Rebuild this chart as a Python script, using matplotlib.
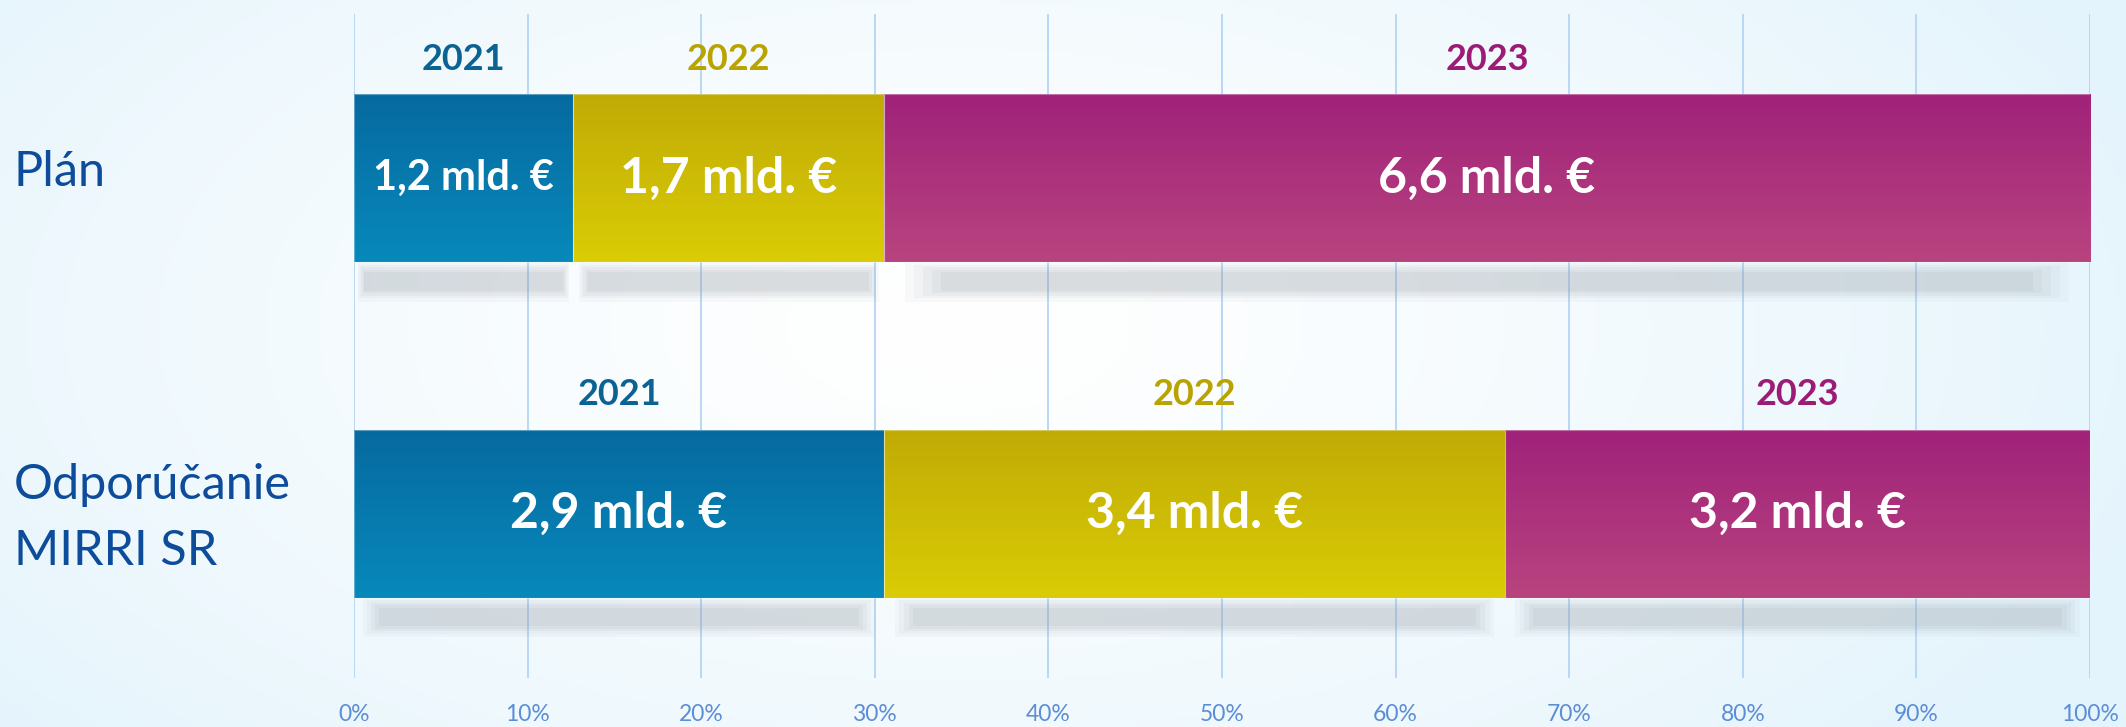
import numpy as np
import matplotlib.pyplot as plt
import matplotlib.transforms as mtransforms
from matplotlib.colors import to_rgb

# data
categories = ['Odporúčanie\nMIRRI SR', 'Plán']
years = ['2021', '2022', '2023']
plan = [1.2, 1.7, 6.6]
mirri = [2.9, 3.4, 3.2]
rows = [mirri, plan]
ticks = [0, 10, 20, 30, 40, 50, 60, 70, 80, 90, 100]

top_cols = ['#066aa0', '#c0ab05', '#a0227a']
bot_cols = ['#0889bb', '#dacc06', '#b8447f']
year_cols = ['#0b6394', '#b9a301', '#9c1c75']

plt.rcParams['font.family'] = ['Lato', 'DejaVu Sans']

fig = plt.figure(figsize=(21.26, 7.27), dpi=100)

# background gradient
bg = fig.add_axes([0, 0, 1, 1], zorder=-10)
gx, gy = np.meshgrid(np.linspace(0, 1, 400), np.linspace(0, 1, 140))
t = np.sqrt(((gx - 0.45) / 0.6) ** 2 + ((gy - 0.45) / 0.9) ** 2)
t = np.clip(t, 0, 1) ** 1.3
c0 = np.array(to_rgb('#ffffff'))
c1 = np.array(to_rgb('#e4f4fc'))
img = c0 * (1 - t[..., None]) + c1 * t[..., None]
bg.imshow(img, aspect='auto', extent=[0, 1, 0, 1], origin='upper')
bg.axis('off')

ax = fig.add_axes([354 / 2126, 1 - 678 / 727, (2090 - 354) / 2126, (678 - 14) / 727])
ax.patch.set_alpha(0)
ax.set_xlim(0, 100)
ax.set_ylim(-0.49, 1.49)

ax.set_xticks(ticks)
ax.set_xticklabels([f'{v}%' for v in ticks])
ax.tick_params(axis='x', length=0, pad=19, labelsize=16.5, labelcolor='#5b8ed6')
ax.set_yticks([])
for s in ax.spines.values():
    s.set_visible(False)
ax.grid(axis='x', color='#b3d5f5', lw=1.3, zorder=0)
ax.set_axisbelow(True)

# blurred shadow layers: (width share, height, alpha)
shadow = [(0.965, 0.12, 0.05), (0.95, 0.10, 0.06), (0.935, 0.085, 0.07),
          (0.92, 0.07, 0.08), (0.905, 0.055, 0.09)]

bh = 0.5
for i, vals in enumerate(rows):
    tot = sum(vals)
    pct = [v / tot * 100 for v in vals]
    left = 0
    for j, p in enumerate(pct):
        for w, h, a in shadow:
            ax.barh(i - bh / 2 - 0.058, p * w, left=left + p * (1 - w) / 2, height=h,
                    color='#8c969e', alpha=a, lw=0, zorder=1)
        bar = ax.barh(i, p, left=left, height=bh, color=bot_cols[j],
                      edgecolor='#ffffff', lw=0.8, zorder=3)[0]
        grad = np.linspace(0, 1, 100)[:, None, None]
        gimg = np.array(to_rgb(top_cols[j])) * (1 - grad) + np.array(to_rgb(bot_cols[j])) * grad
        im = ax.imshow(gimg, aspect='auto', extent=[left, left + p, i - bh / 2, i + bh / 2],
                       origin='upper', zorder=2.5)
        im.set_clip_path(bar)
        bar.set_facecolor('none')
        bar.set_edgecolor((1, 1, 1, 0.35))
        lbl = f'{vals[j]:.1f}'.replace('.', ',') + ' mld. €'
        fs = 30 if p < 15 else 36
        ax.text(left + p / 2, i, lbl, ha='center', va='center', color='white',
                fontsize=fs, fontweight='bold', zorder=5)
        ax.text(left + p / 2, i + 0.355, years[j], ha='center', va='center',
                color=year_cols[j], fontsize=26, fontweight='bold', zorder=5)
        left += p

ax.set_ylim(-0.49, 1.49)
ax.set_xlim(0, 100)

trans = mtransforms.blended_transform_factory(fig.transFigure, ax.transData)
for i, c in enumerate(categories):
    ax.text(14 / 2126, i + (-0.012 if i == 0 else 0.02), c, transform=trans, ha='left', va='center',
            fontsize=35, color='#0c4c9a', linespacing=1.6)

fig.savefig('out.png', dpi=100)
